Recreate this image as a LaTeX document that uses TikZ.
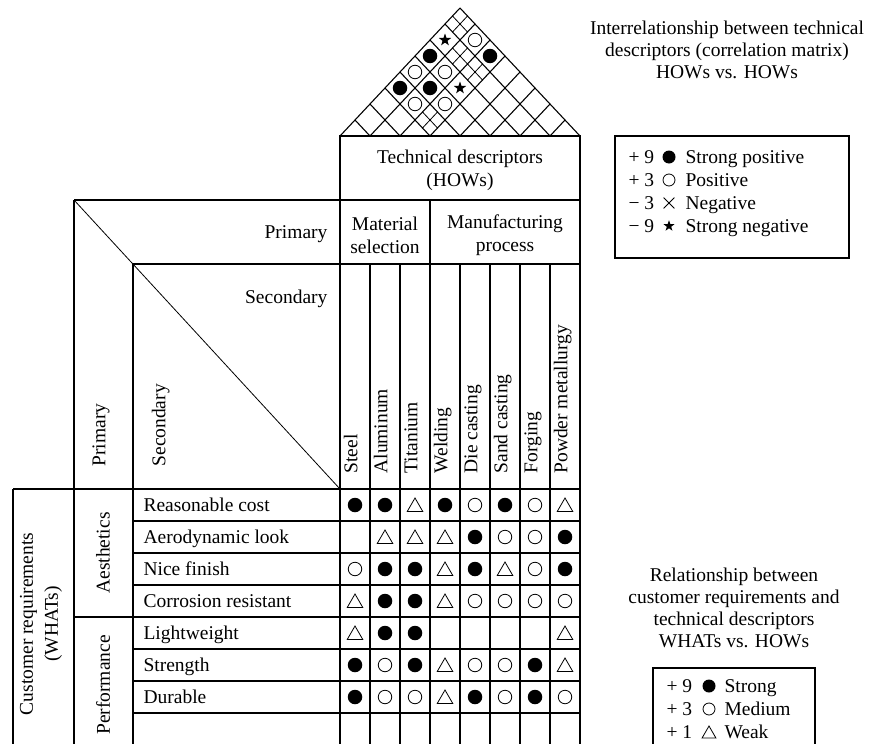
\documentclass[tikz,border=0pt]{standalone}
\usepackage{fontspec}
\setmainfont{Liberation Serif}
\usetikzlibrary{shapes.geometric,shapes.misc}
\tikzset{
  txt/.style={font=\fontsize{19.5}{23}\selectfont, inner sep=0pt},
  full/.style={circle, fill=black, draw=none, minimum size=14.5pt, inner sep=0pt},
  hollow/.style={circle, draw, line width=0.8pt, minimum size=13.5pt, inner sep=0pt},
  tri/.style={regular polygon, regular polygon sides=3, draw, line width=0.8pt, minimum size=18pt, inner sep=0pt, yshift=-2pt},
  starsym/.style={star, star points=5, star point ratio=2.5, fill=black, minimum size=13pt, inner sep=0pt},
  crosssym/.style={cross out, draw, line width=0.8pt, minimum size=10pt, inner sep=0pt},
  thin/.style={line width=0.8pt},
}
\begin{document}
\begin{tikzpicture}[x=1pt,y=-1pt,line width=1.1pt]
\useasboundingbox (0,0) rectangle (873,744);

% ---------- roof (correlation matrix) ----------
\foreach \k in {0,...,8}{
  \draw ({340+30*\k},136) -- ++({15*(8-\k)},{-16*(8-\k)});
  \draw ({340+30*\k},136) -- ++({-15*\k},{-16*\k});
}
\foreach \i/\j in {1/8,2/7,3/7,3/4}{
  \pgfmathsetmacro\cx{325+15*(\i+\j)}
  \pgfmathsetmacro\cy{136-16*(\j-\i)}
  \draw[thin] ({\cx-7.5},{\cy+8}) -- ({\cx+7.5},{\cy-8})
              ({\cx+7.5},{\cy+8}) -- ({\cx-7.5},{\cy-8});
}
\foreach \i/\j in {1/6,3/8,1/4,2/5}
  \node[full] (rf\i\j) at ({325+15*(\i+\j)},{136-16*(\j-\i)}) {};
\foreach \i/\j in {2/8,1/5,2/6,2/4,3/5}
  \node[hollow] (rh\i\j) at ({325+15*(\i+\j)},{136-16*(\j-\i)}) {};
\foreach \i/\j in {1/7,3/6}
  \node[starsym] (rs\i\j) at ({325+15*(\i+\j)},{136-16*(\j-\i)}) {};

% ---------- table lines ----------
\draw (340,136) rectangle (580,200);
\draw (74,200) -- (580,200);
\draw (133,264) -- (580,264);
\draw (13,489) -- (580,489);
\draw (74,617) -- (580,617);
\foreach \y in {521,553,585,649,681,713}
  \draw (133,\y) -- (580,\y);
\draw (13,489) -- (13,744);
\draw (74,200) -- (74,744);
\draw (133,264) -- (133,744);
\draw (340,200) -- (340,744);
\draw (430,200) -- (430,744);
\draw (580,200) -- (580,744);
\foreach \k in {1,2,4,5,6,7}
  \draw ({340+30*\k},264) -- ({340+30*\k},744);
\draw[thin] (74,200) -- (340,489);

% ---------- header texts ----------
\node[txt, align=center] (tech) at (460,170) {Technical descriptors\\(HOWs)};
\node[txt, align=center] (mat) at (385,235) {Material\\selection};
\node[txt, align=center] (man) at (505,235) {Manufacturing\\process};
\node[txt, anchor=base east] (prim) at (328,238) {Primary};
\node[txt, anchor=base east] (sec) at (328,303) {Secondary};
\node[txt, rotate=90, anchor=mid west] (vprim) at (103,467) {Primary};
\node[txt, rotate=90, anchor=mid west] (vsec) at (163,467) {Secondary};
\foreach \t [count=\c] in {Steel,Aluminum,Titanium,Welding,Die casting,Sand casting,Forging,Powder metallurgy}
  \node[txt, rotate=90, anchor=mid west] (col\c) at ({325+30*\c},474) {\t};

% ---------- row texts ----------
\foreach \t [count=\r] in {Reasonable cost,Aerodynamic look,Nice finish,Corrosion resistant,Lightweight,Strength,Durable}
  \node[txt, anchor=base west] (row\r) at (143,{479.5+32*\r}) {\t};
\node[txt, rotate=90] (aes) at (103,553) {Aesthetics};
\node[txt, rotate=90] (perf) at (103,685) {Performance};
\node[txt, rotate=90, align=center] (cust) at (41,624) {Customer requirements\\[2pt](WHATs)};

% ---------- relationship matrix ----------
\foreach \r/\c in {1/1,1/2,1/4,1/6,2/5,2/8,3/2,3/3,3/5,3/8,4/2,4/3,5/2,5/3,6/1,6/3,6/7,7/1,7/5,7/7}
  \node[full] (mf\r\c) at ({325+30*\c},{473+32*\r}) {};
\foreach \r/\c in {1/5,1/7,2/6,2/7,3/1,3/7,4/5,4/6,4/7,4/8,6/2,6/5,6/6,7/2,7/3,7/6,7/8}
  \node[hollow] (mh\r\c) at ({325+30*\c},{473+32*\r}) {};
\foreach \r/\c in {1/3,1/8,2/2,2/3,2/4,3/4,3/6,4/1,4/4,5/1,5/8,6/4,6/8,7/4}
  \node[tri] (mt\r\c) at ({325+30*\c},{473+32*\r}) {};

% ---------- legend: correlation ----------
\node[txt, align=center, font=\fontsize{19.5}{22}\selectfont] (ctitle) at (727,50) {Interrelationship between technical\\descriptors (correlation matrix)\\HOWs vs. HOWs};
\draw (615,136) rectangle (849,258);
\foreach \n/\t [count=\i] in {+ 9/Strong positive,+ 3/Positive,− 3/Negative,− 9/Strong negative}{
  \node[txt, anchor=base west] (cn\i) at (628,{163.5+23*\i-23}) {\n};
  \node[txt, anchor=base west] (ct\i) at (685,{163.5+23*\i-23}) {\t};
}
\node[full, minimum size=13pt] (c1s) at (669,157) {};
\node[hollow, minimum size=12pt] (c2s) at (669,180) {};
\node[crosssym] (c3s) at (669,203) {};
\node[starsym, minimum size=11.5pt] (c4s) at (669,226) {};

% ---------- legend: relationship ----------
\node[txt, align=center, font=\fontsize{19.5}{22}\selectfont] (rtitle) at (734,608) {Relationship between\\customer requirements and\\technical descriptors\\WHATs vs. HOWs};
\draw (653,744) -- (653,668) -- (815,668) -- (815,744);
\foreach \n/\t [count=\i] in {+ 9/Strong,+ 3/Medium,+ 1/Weak}{
  \node[txt, anchor=base west] (rn\i) at (666,{669.5+23*\i}) {\n};
  \node[txt, anchor=base west] (rt\i) at (724,{669.5+23*\i}) {\t};
}
\node[full, minimum size=13pt] (r1s) at (709,686) {};
\node[hollow, minimum size=12pt] (r2s) at (709,709) {};
\node[tri, minimum size=16pt] (r3s) at (709,732) {};
\end{tikzpicture}
\end{document}
